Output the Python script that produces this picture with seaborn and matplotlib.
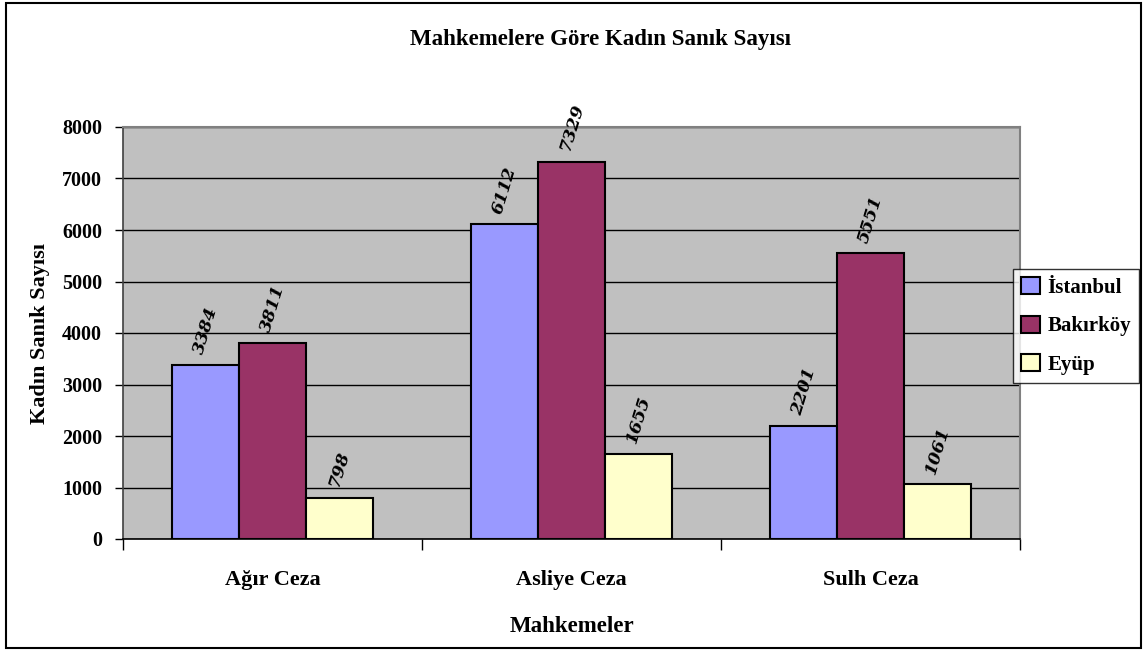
import pandas as pd
import matplotlib.pyplot as plt
import seaborn as sns
from matplotlib.patches import Rectangle

mahkemeler = ['Ağır Ceza', 'Asliye Ceza', 'Sulh Ceza']
sehirler = ['İstanbul', 'Bakırköy', 'Eyüp']
istanbul = [3384, 6112, 2201]
bakirkoy = [3811, 7329, 5551]
eyup = [798, 1655, 1061]
renkler = ['#9999FF', '#993366', '#FFFFCC']

df = pd.DataFrame({
    'Mahkeme': mahkemeler * 3,
    'Sehir': [s for s in sehirler for _ in mahkemeler],
    'Sayi': istanbul + bakirkoy + eyup,
})

sns.set_theme(style='white')
plt.rcParams['font.family'] = ['Liberation Serif', 'DejaVu Serif']
plt.rcParams.update({'text.color': 'black', 'axes.labelcolor': 'black',
                     'xtick.color': 'black', 'ytick.color': 'black'})

fig = plt.figure(figsize=(11.47, 6.51), dpi=100)
W, H = 1147, 651
ax = fig.add_axes([123 / W, (H - 539) / H, (1020 - 123) / W, (539 - 127) / H])
ax.set_facecolor('#C0C0C0')

sns.barplot(data=df, x='Mahkeme', y='Sayi', hue='Sehir', palette=renkler,
            width=0.67, edgecolor='black', linewidth=1.5, saturation=1,
            ax=ax, legend=False, zorder=3)

# bar value labels, slanted like the original
for cont in ax.containers:
    for bar in cont:
        v = bar.get_height()
        ax.annotate(f'{int(v)}', (bar.get_x() + bar.get_width() / 2, v),
                    xytext=(0, 6), textcoords='offset points',
                    ha='center', va='bottom', rotation=73, color='black',
                    family='DejaVu Serif', fontsize=12.5,
                    fontweight='bold', fontstyle='italic')

ax.set_ylim(0, 8000)
ax.set_xlim(-0.5, 2.5)
ax.set_yticks(range(0, 8001, 1000))
ax.yaxis.grid(True, color='black', linewidth=1)
ax.set_axisbelow(True)
ax.tick_params(axis='y', left=True, length=6, width=1, color='black',
               labelcolor='black', labelsize=14.5, pad=9)
ax.set_xticks([0, 1, 2])
ax.set_xticks([-0.5, 0.5, 1.5, 2.5], minor=True)
ax.tick_params(axis='x', which='major', bottom=False, labelsize=16, pad=16,
               labelcolor='black')
ax.tick_params(axis='x', which='minor', bottom=True, length=8, width=1,
               color='black', direction='out')
for lbl in ax.get_xticklabels() + ax.get_yticklabels():
    lbl.set_fontweight('bold')

for side in ['top', 'right']:
    ax.spines[side].set_color('#808080')
    ax.spines[side].set_linewidth(1.5)
ax.spines['left'].set_color('#404040')
ax.spines['bottom'].set_color('black')
ax.spines['left'].set_linewidth(1.2)
ax.spines['bottom'].set_linewidth(1.2)

ax.set_xlabel('Mahkemeler', fontsize=16.5, fontweight='bold', labelpad=19,
              color='black')
ax.set_ylabel('Kadın Sanık Sayısı', fontsize=16, fontweight='bold', labelpad=9,
              color='black')
fig.text(601 / W, 1 - 40 / H, 'Mahkemelere Göre Kadın Sanık Sayısı',
         ha='center', va='center', fontsize=16.5, fontweight='bold',
         color='black')

handles = [Rectangle((0, 0), 1, 1, facecolor=c, edgecolor='black', linewidth=1.5)
           for c in renkler]
leg = ax.legend(handles, sehirler, loc='center left',
                bbox_to_anchor=(1013 / W, 1 - 326 / H), bbox_transform=fig.transFigure,
                frameon=True, fancybox=False, edgecolor='black',
                prop={'size': 15, 'weight': 'bold'},
                handlelength=0.9, handleheight=0.9, handletextpad=0.35,
                borderpad=0.4, labelspacing=0.85, borderaxespad=0)
leg.get_frame().set_linewidth(1)
for t in leg.get_texts():
    t.set_color('black')

fig.patches.append(Rectangle((6 / W, 3 / H), (1141 - 6) / W, (648 - 3) / H,
                             transform=fig.transFigure, fill=False,
                             edgecolor='black', linewidth=1.5))

fig.savefig('out.png', dpi=100)
